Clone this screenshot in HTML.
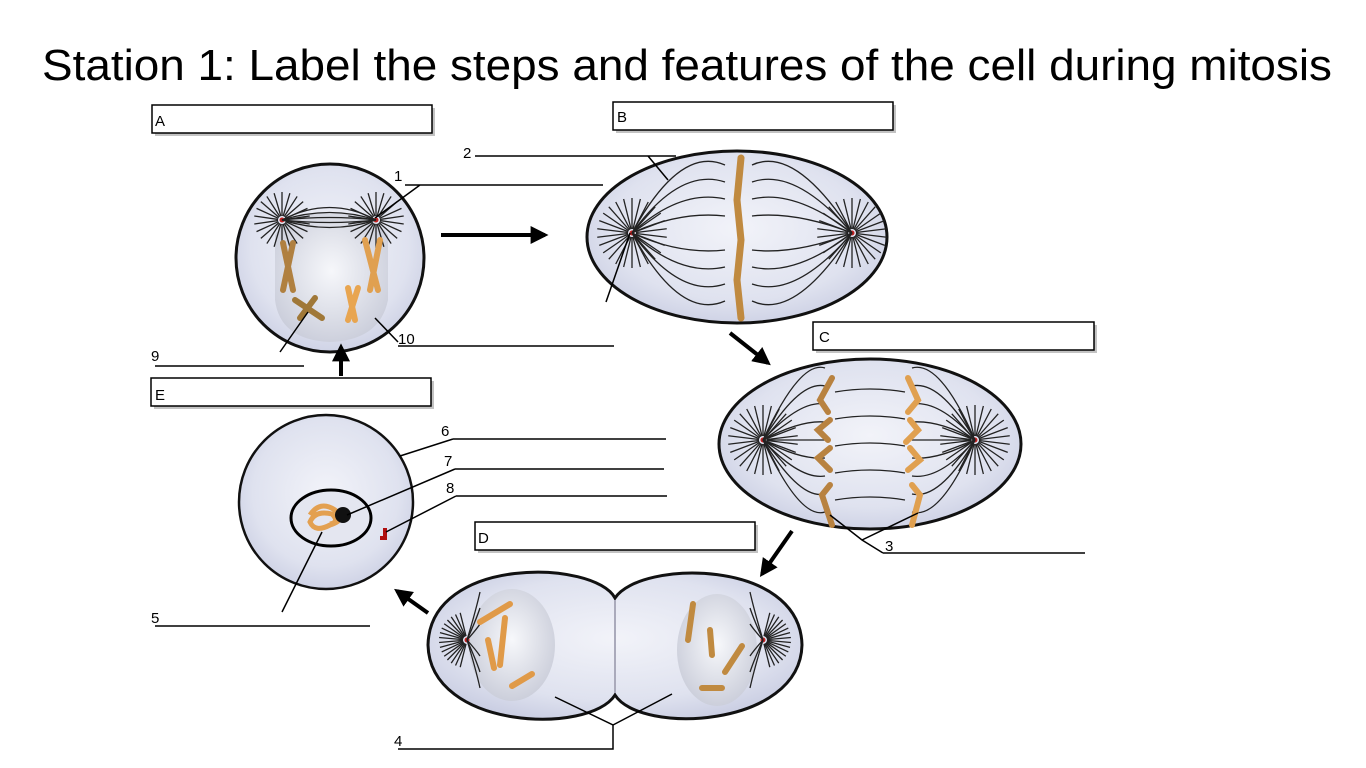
<!DOCTYPE html>
<html><head><meta charset="utf-8"><style>
html,body{margin:0;padding:0;background:#fff;width:1366px;height:768px;overflow:hidden}
svg{display:block}
text{font-family:"Liberation Sans",sans-serif}
</style></head><body>
<svg id="s" width="1366" height="768" viewBox="0 0 1366 768" xmlns="http://www.w3.org/2000/svg">
<defs>
<radialGradient id="cg" cx="50%" cy="45%" r="60%"><stop offset="0" stop-color="#f2f3f9"/><stop offset="0.7" stop-color="#dfe2ef"/><stop offset="1" stop-color="#c9cde2"/></radialGradient>
<radialGradient id="ng" cx="50%" cy="45%" r="60%"><stop offset="0" stop-color="#f7f8fb"/><stop offset="1" stop-color="#c8cbd8"/></radialGradient>
<marker id="ah" viewBox="0 0 10 10" refX="8" refY="5" markerWidth="4.5" markerHeight="4.5" orient="auto"><path d="M0,0 L10,5 L0,10 Z" fill="#000"/></marker>
</defs>
<text x="687" y="80" font-size="44" text-anchor="middle" textLength="1290" lengthAdjust="spacingAndGlyphs">Station 1: Label the steps and features of the cell during mitosis</text>

<g font-size="15">
<rect x="155" y="108" width="280" height="28" fill="#888" opacity=".5"/><rect x="152" y="105" width="280" height="28" fill="#fff" stroke="#000" stroke-width="1.5"/><text x="155" y="126">A</text>
<rect x="616" y="105" width="280" height="28" fill="#888" opacity=".5"/><rect x="613" y="102" width="280" height="28" fill="#fff" stroke="#000" stroke-width="1.5"/><text x="617" y="122">B</text>
<rect x="816" y="325" width="281" height="28" fill="#888" opacity=".5"/><rect x="813" y="322" width="281" height="28" fill="#fff" stroke="#000" stroke-width="1.5"/><text x="819" y="342">C</text>
<rect x="478" y="525" width="280" height="28" fill="#888" opacity=".5"/><rect x="475" y="522" width="280" height="28" fill="#fff" stroke="#000" stroke-width="1.5"/><text x="478" y="543">D</text>
<rect x="154" y="381" width="280" height="28" fill="#888" opacity=".5"/><rect x="151" y="378" width="280" height="28" fill="#fff" stroke="#000" stroke-width="1.5"/><text x="155" y="400">E</text>
</g>

<circle cx="330" cy="258" r="94" fill="url(#cg)" stroke="#111" stroke-width="3"/>
<path d="M275,235 Q290,210 330,214 Q370,210 388,235 L388,300 Q380,340 330,342 Q280,340 275,300 Z" fill="url(#ng)" opacity=".9"/>
<ellipse cx="737" cy="237" rx="150" ry="86" fill="url(#cg)" stroke="#111" stroke-width="3"/>
<ellipse cx="870" cy="444" rx="151" ry="85" fill="url(#cg)" stroke="#111" stroke-width="3"/>
<circle cx="326" cy="502" r="87" fill="url(#cg)" stroke="#111" stroke-width="2.5"/>
<path d="M615,598 C595,560 430,555 428,645 C430,730 590,735 615,695 C640,735 800,728 802,645 C800,558 640,560 615,598 Z" fill="url(#cg)" stroke="#111" stroke-width="3"/>
<line x1="615" y1="600" x2="615" y2="693" stroke="#aab" stroke-width="2"/>
<ellipse cx="512" cy="645" rx="43" ry="56" fill="url(#ng)"/>
<ellipse cx="717" cy="650" rx="40" ry="56" fill="url(#ng)"/>
<ellipse cx="331" cy="518" rx="40" ry="28" fill="#e4e6f0" stroke="#000" stroke-width="3"/>
<path d="M310,515 q10,-15 25,-5 q12,10 -5,15 q-15,8 -20,-3 q5,-12 22,-8 q8,8 -2,10" fill="none" stroke="#e3a050" stroke-width="5"/>
<circle cx="343" cy="515" r="8" fill="#111"/>
<path d="M385,528 v10 h-5" stroke="#b01010" stroke-width="4" fill="none"/>

<g id="spindles" stroke="#222" stroke-width="1.3" fill="none"></g>

<g stroke-linecap="round" stroke-width="6" fill="none">
<path d="M283,243 L293,290 M293,243 L283,290" stroke="#b08040"/>
<path d="M365,240 L378,290 M380,240 L370,290" stroke="#e0a050"/>
<path d="M295,300 L322,318 M300,318 L315,298" stroke="#a07838"/>
<path d="M348,288 L355,320 M358,288 L348,320" stroke="#e8a550"/>
<path d="M741,158 L737,200 L741,240 L737,280 L741,318" stroke="#c08a40" stroke-width="7"/>
<path d="M832,378 L820,400 L828,412 M830,420 L818,430 L828,440 M830,448 L818,458 L830,470 M830,485 L822,495 L832,525" stroke="#b88240" stroke-width="6"/>
<path d="M908,378 L918,400 L908,412 M910,420 L918,430 L906,442 M910,448 L920,460 L908,470 M912,485 L920,495 L912,525" stroke="#e0a050" stroke-width="6"/>
<path d="M480,622 L510,604 M505,618 L500,665 M488,640 L494,668 M512,686 L532,674" stroke="#e09a48"/>
<path d="M693,604 L688,640 M710,630 L712,655 M725,672 L742,646 M702,688 L722,688" stroke="#c08a40"/>
</g>

<g stroke="#000" stroke-width="4" marker-end="url(#ah)">
<line x1="441" y1="235" x2="545" y2="235"/>
<line x1="730" y1="333" x2="768" y2="363"/>
<line x1="792" y1="531" x2="762" y2="574"/>
<line x1="428" y1="613" x2="397" y2="591"/>
<line x1="341" y1="376" x2="341" y2="347"/>
</g>

<g stroke="#000" stroke-width="1.5" fill="none">
<path d="M405,185 H603 M420,185 L375,218"/>
<path d="M475,156 H676 M648,156 L668,180"/>
<path d="M398,346 H614 M375,318 L398,342"/>
<path d="M155,366 H304 M280,352 L308,312"/>
<path d="M453,439 H666 M453,439 L400,456"/>
<path d="M455,469 H664 M455,469 L347,515"/>
<path d="M456,496 H667 M456,496 L386,532"/>
<path d="M155,626 H370 M282,612 L322,532"/>
<path d="M883,553 H1085 M883,553 L862,540 L830,515 M862,540 L918,513"/>
<path d="M398,749 H613 V725 L555,697 M613,725 L672,694"/>
<path d="M630,233 L606,302"/>
</g>
<g font-size="15">
<text x="394" y="181">1</text><text x="463" y="158">2</text><text x="398" y="344">10</text><text x="151" y="361">9</text>
<text x="441" y="436">6</text><text x="444" y="466">7</text><text x="446" y="493">8</text><text x="151" y="623">5</text>
<text x="885" y="551">3</text><text x="394" y="746">4</text>
</g>
</svg>
<script>
var g=document.getElementById('spindles'),N='http://www.w3.org/2000/svg';
function L(x1,y1,x2,y2){var l=document.createElementNS(N,'line');l.setAttribute('x1',x1);l.setAttribute('y1',y1);l.setAttribute('x2',x2);l.setAttribute('y2',y2);g.appendChild(l);}
function P(d){var p=document.createElementNS(N,'path');p.setAttribute('d',d);g.appendChild(p);}
function dot(cx,cy){var c=document.createElementNS(N,'circle');c.setAttribute('cx',cx);c.setAttribute('cy',cy);c.setAttribute('r',2.5);c.setAttribute('fill','#c02020');c.setAttribute('stroke','none');g.appendChild(c);}
function star(cx,cy,r,n,a0,a1){a0=a0||0;a1=a1||2*Math.PI;for(var i=0;i<n;i++){var a=a0+(i+0.5)*(a1-a0)/n;L(cx+Math.cos(a)*4,cy+Math.sin(a)*4,cx+Math.cos(a)*r,cy+Math.sin(a)*r);}dot(cx,cy);}
star(282,220,28,22);star(376,220,28,22);
for(var i=0;i<5;i++){P('M282,220 Q330,'+(195+i*10)+' 376,220');}
star(632,233,35,26);star(852,233,35,26);
for(var i=-4;i<=4;i++){if(i==0)continue;P('M632,233 Q680,'+(233+i*22)+' 725,'+(233+i*17));P('M852,233 Q795,'+(233+i*22)+' 752,'+(233+i*17));}
star(763,440,35,26);star(975,440,35,26);
for(var i=-4;i<=4;i++){P('M763,440 Q800,'+(440+i*20)+' 825,'+(440+i*18));P('M975,440 Q940,'+(440+i*20)+' 912,'+(440+i*18));}
for(var i=0;i<5;i++){P('M835,'+(392+i*27)+' Q870,'+(386+i*27)+' 905,'+(392+i*27));}
star(467,640,28,16,Math.PI*0.55,Math.PI*1.45);
for(var i=-3;i<=3;i++){if(i==0)continue;P('M467,640 Q476,'+(640+i*10)+' 480,'+(640+i*16));}
star(763,640,28,16,-Math.PI*0.45,Math.PI*0.45);
for(var i=-3;i<=3;i++){if(i==0)continue;P('M763,640 Q754,'+(640+i*10)+' 750,'+(640+i*16));}
</script>
</body></html>
